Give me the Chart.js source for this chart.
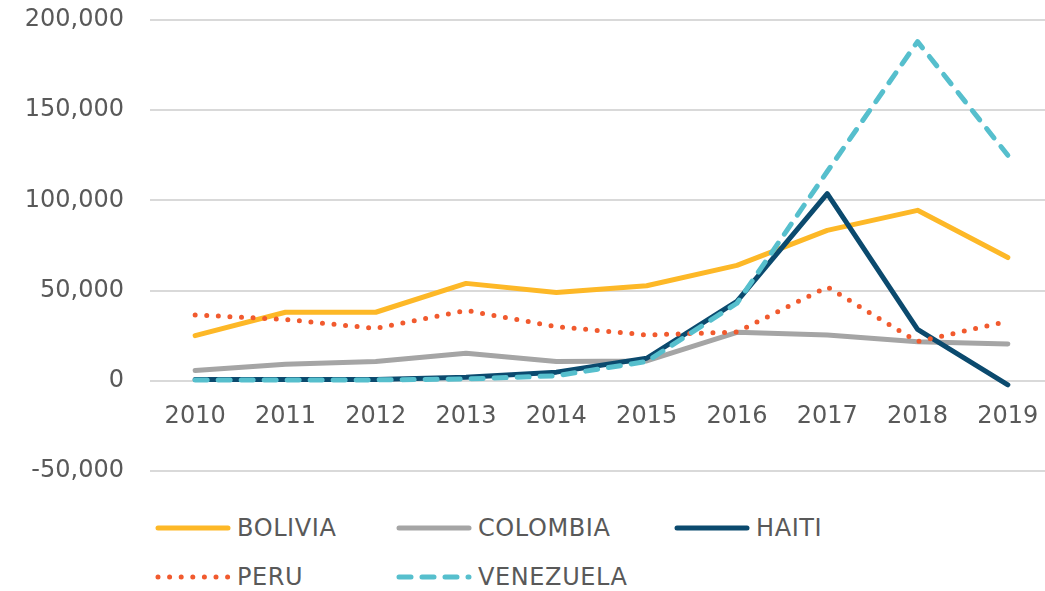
<!DOCTYPE html>
<html>
<head>
<meta charset="utf-8">
<script src="https://cdn.jsdelivr.net/npm/chart.js@4.4.1/dist/chart.umd.min.js"></script>
<style>
  html, body { margin: 0; padding: 0; background: #ffffff; overflow: hidden; width: 1045px; height: 591px; }
  #wrap { position: relative; width: 1045px; height: 591px; overflow: hidden; }
  #c { position: absolute; left: 0; top: 0; width: 1053px; height: 491px; }
  #legend { position: absolute; left: 155px; top: 503px; display: grid;
            grid-template-columns: 241px 278px 250px; grid-auto-rows: 49px;
            font-family: "DejaVu Sans", sans-serif; font-size: 24px; color: #595959; letter-spacing: 0.6px; }
  .item { display: flex; align-items: center; white-space: nowrap; }
  .item svg { margin-right: 6px; flex: none; }
</style>
</head>
<body>
<div id="wrap">
  <canvas id="c" width="1053" height="491"></canvas>
  <div id="legend"></div>
</div>
<script>
const years = ['2010','2011','2012','2013','2014','2015','2016','2017','2018','2019'];
const bolivia   = [25000, 38000, 38000, 54000, 49000, 52700, 64000, 83400, 94500, 68300];
const colombia  = [5700, 9200, 10700, 15300, 10700, 11000, 26900, 25400, 21700, 20400];
const haiti     = [700, 700, 700, 2000, 4800, 12500, 44000, 103700, 28500, -2200];
const peru      = [36500, 34000, 29000, 39000, 30000, 25400, 27000, 52000, 21700, 33000];
const venezuela = [500, 500, 500, 1000, 2800, 10700, 43000, 116000, 188000, 125000];
const yTicks = [-50000, 0, 50000, 100000, 150000, 200000];

const series = [
  { label: 'BOLIVIA',   data: bolivia,   color: '#FDB827', dash: [],        order: 5 },
  { label: 'COLOMBIA',  data: colombia,  color: '#A5A5A5', dash: [],        order: 4 },
  { label: 'HAITI',     data: haiti,     color: '#0B4A6E', dash: [],        order: 3 },
  { label: 'PERU',      data: peru,      color: '#F15A2E', dash: [0, 11.6], order: 2 },
  { label: 'VENEZUELA', data: venezuela, color: '#56BFCD', dash: [12, 11],  order: 1 }
];

const textColor = '#595959';
const font = { family: '"DejaVu Sans", sans-serif', size: 24 };

new Chart(document.getElementById('c'), {
  type: 'line',
  data: {
    labels: years,
    datasets: series.map(s => ({
      label: s.label,
      data: s.data,
      borderColor: s.color,
      backgroundColor: s.color,
      borderWidth: 5,
      borderDash: s.dash,
      borderCapStyle: 'round',
      borderJoinStyle: 'round',
      pointRadius: 0,
      pointHoverRadius: 0,
      tension: 0,
      fill: false,
      order: s.order
    }))
  },
  options: {
    responsive: false,
    maintainAspectRatio: false,
    animation: false,
    layout: { padding: { top: 20, bottom: 20, right: 0, left: 0 } },
    plugins: { legend: { display: false }, tooltip: { enabled: false } },
    scales: {
      x: {
        position: { y: 0 },
        offset: true,
        afterFit: (scale) => { scale.paddingLeft = 0; scale.paddingRight = 0; },
        grid: { display: false, drawTicks: false, offset: true },
        border: { display: false },
        ticks: { color: textColor, font: font, padding: 22, maxRotation: 0 }
      },
      y: {
        min: -50000,
        max: 200000,
        afterBuildTicks: (scale) => { scale.ticks = yTicks.map(v => ({ value: v })); },
        afterFit: (scale) => { scale.width = 150; scale.paddingTop = 0; scale.paddingBottom = 0; },
        grid: { color: '#D9D9D9', lineWidth: 2, drawTicks: false },
        border: { display: false },
        ticks: {
          color: textColor, font: font, padding: 26,
          callback: (v) => Number(v).toLocaleString('en-US')
        }
      }
    }
  }
});

// HTML legend built from the series
const legend = document.getElementById('legend');
series.forEach((s, i) => {
  const item = document.createElement('div');
  item.className = 'item';
  if (i === 3) item.style.gridColumn = '1';
  const dashAttr = s.dash.length ? `stroke-dasharray="${s.dash.join(' ')}"` : '';
  item.innerHTML = `<svg width="76" height="10"><line x1="3" y1="5" x2="73" y2="5" stroke="${s.color}" stroke-width="5" stroke-linecap="round" ${dashAttr}/></svg><span>${s.label}</span>`;
  legend.appendChild(item);
});
</script>
</body>
</html>
